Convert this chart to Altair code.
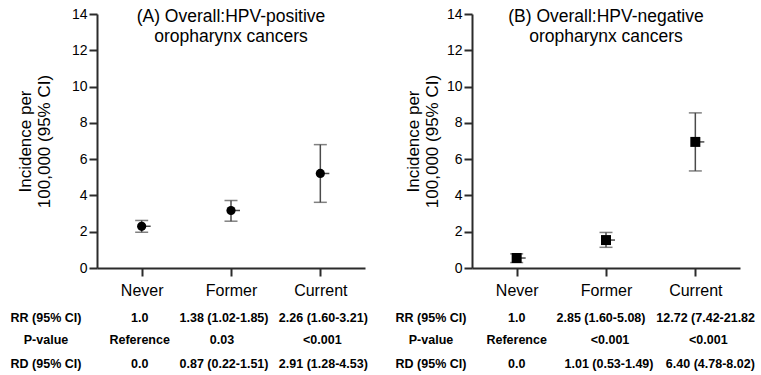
import altair as alt
import pandas as pd

# Incidence per 100,000 by smoking status
categories = ["Never", "Former", "Current"]

pos_rate = [2.30, 3.17, 5.21]
pos_lo = [1.97, 2.58, 3.62]
pos_hi = [2.62, 3.72, 6.80]

neg_rate = [0.55, 1.54, 6.95]
neg_lo = [0.30, 1.14, 5.35]
neg_hi = [0.78, 1.96, 8.55]

# Table rows printed under each panel
row_labels = ["RR (95% CI)", "P-value", "RD (95% CI)"]
pos_rr = ["1.0", "1.38 (1.02-1.85)", "2.26 (1.60-3.21)"]
pos_p = ["Reference", "0.03", "<0.001"]
pos_rd = ["0.0", "0.87 (0.22-1.51)", "2.91 (1.28-4.53)"]
neg_rr = ["1.0", "2.85 (1.60-5.08)", "12.72 (7.42-21.82)"]
neg_p = ["Reference", "<0.001", "<0.001"]
neg_rd = ["0.0", "1.01 (0.53-1.49)", "6.40 (4.78-8.02)"]

y_ticks = [0, 2, 4, 6, 8, 10, 12, 14]
y_title = ["Incidence per", "100,000 (95% CI)"]

FONT = "Liberation Sans"
W, H = 268, 254
ROW_Y = [H + 50, H + 72, H + 96]
LINE = "#4a4a4a"


def panel(title, rate, lo, hi, shape, size, rows, col_dx, label_x, title_pad):
    df = pd.DataFrame({"cat": categories, "rate": rate, "lo": lo, "hi": hi})
    xs = alt.Scale(domain=categories, type="point", padding=0.5)
    ys = alt.Scale(domain=[0, 14], nice=False)
    y_axis = alt.Axis(values=y_ticks, title=y_title, titlePadding=title_pad,
                      grid=False)
    x_axis = alt.Axis(title=None, labelAngle=0, labelFontSize=16,
                      labelPadding=6, grid=False)
    x = alt.X("cat:N", sort=categories, scale=xs, axis=x_axis)

    base = alt.Chart(df)
    err = base.mark_rule(color=LINE, strokeWidth=1.5).encode(
        x=x, y=alt.Y("lo:Q", scale=ys, axis=y_axis), y2="hi:Q")
    cap_lo = base.mark_tick(size=13, thickness=1.5, color=LINE).encode(
        x=x, y=alt.Y("lo:Q", scale=ys, axis=y_axis))
    cap_hi = base.mark_tick(size=13, thickness=1.5, color=LINE).encode(
        x=x, y=alt.Y("hi:Q", scale=ys, axis=y_axis))
    mean_tick = base.mark_rule(color=LINE, strokeWidth=1.5, x2Offset=9).encode(
        x=x, x2=alt.X2("cat"), y=alt.Y("rate:Q", scale=ys, axis=y_axis))
    pts = base.mark_point(shape=shape, filled=True, size=size, color="black",
                          opacity=1).encode(
        x=x, y=alt.Y("rate:Q", scale=ys, axis=y_axis))

    layers = [err, cap_lo, cap_hi, mean_tick, pts]

    # row headings
    for r, lab in enumerate(row_labels):
        ldf = pd.DataFrame({"lab": [lab]})
        layers.append(alt.Chart(ldf).mark_text(
            font=FONT, fontSize=12.5, fontWeight="bold", align="center",
            baseline="middle", color="black").encode(
            x=alt.value(label_x), y=alt.value(ROW_Y[r]), text="lab:N"))

    # table cells
    for r, vals in enumerate(rows):
        for c, cat in enumerate(categories):
            cdf = pd.DataFrame({"cat": [cat], "txt": [vals[c]]})
            dx, align, limit = col_dx[r][c]
            kw = dict(font=FONT, fontSize=12.5, fontWeight="bold",
                      align=align, baseline="middle", color="black", dx=dx)
            if limit:
                kw.update(limit=limit, ellipsis=" ")
            layers.append(alt.Chart(cdf).mark_text(**kw).encode(
                x=alt.X("cat:N", sort=categories, scale=xs, axis=x_axis),
                y=alt.value(ROW_Y[r]), text="txt:N"))

    return alt.layer(*layers).properties(
        width=W, height=H,
        title=alt.TitleParams(text=title, fontSize=17.5, font=FONT,
                              fontWeight="normal", anchor="middle",
                              color="black", dy=42),
    )


pos_dx = [[(-2, "center", None), (-7, "center", None), (3, "center", None)],
          [(-2, "center", None), (-9, "center", None), (2, "center", None)],
          [(-2, "center", None), (-7, "center", None), (3, "center", None)]]
neg_dx = [[(0, "center", None), (-5, "center", None), (-39, "left", 102.5)],
          [(0, "center", None), (4, "center", None), (13, "center", None)],
          [(0, "center", None), (3, "center", None), (15, "center", None)]]

left = panel(["(A) Overall:HPV-positive", "oropharynx cancers"],
             pos_rate, pos_lo, pos_hi, "circle", 85,
             [pos_rr, pos_p, pos_rd], pos_dx, -51, 18)
right = panel(["(B) Overall:HPV-negative", "oropharynx cancers"],
              neg_rate, neg_lo, neg_hi, "square", 100,
              [neg_rr, neg_p, neg_rd], neg_dx, -41, 5)

chart = alt.hconcat(left, right, spacing=27).properties(
    padding={"left": 10, "top": 7, "right": 0, "bottom": 0}
).configure_view(stroke=None).configure_axis(
    labelFont=FONT, titleFont=FONT, labelFontSize=14, titleFontSize=17,
    titleFontWeight="normal", labelColor="black", titleColor="black",
    domainColor="#2b2b2b", domainWidth=2, tickColor="#2b2b2b", tickWidth=2,
    tickSize=8,
).configure_title(font=FONT)

chart.save("out.html", embed_options={"renderer": "svg", "actions": False})
